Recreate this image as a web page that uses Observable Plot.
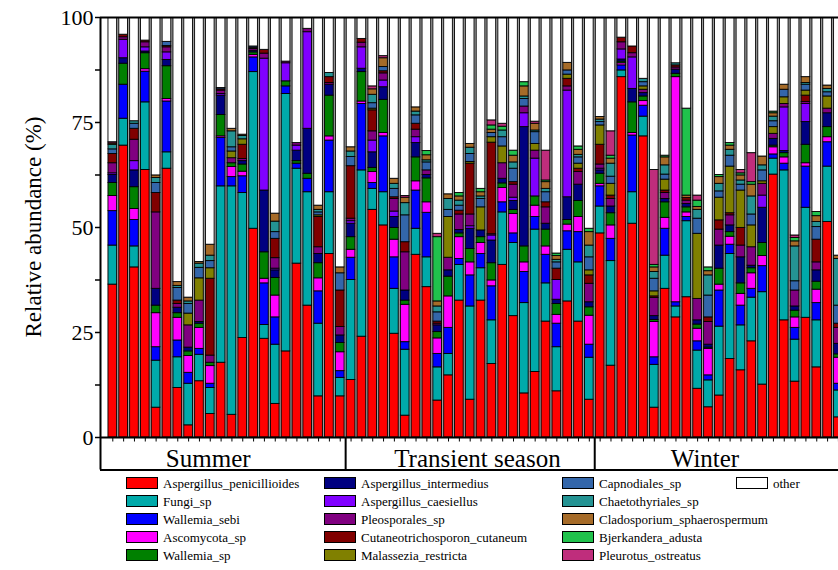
<!DOCTYPE html>
<html>
<head>
<meta charset="utf-8">
<script src="https://cdn.jsdelivr.net/npm/d3@7"></script>
<script src="https://cdn.jsdelivr.net/npm/@observablehq/plot@0.6"></script>
<style>
  html, body { margin: 0; padding: 0; background: #fff; overflow: hidden; }
  body { width: 838px; height: 570px; font-family: "Liberation Serif", "Times New Roman", serif; }
  #legend { position: relative; width: 838px; height: 98px; }
  .item { position: absolute; display: flex; align-items: center; height: 12px; font-size: 13px; line-height: 1; color: #000; white-space: nowrap; }
  .swatch { box-sizing: border-box; border: 1px solid #000; height: 12px; margin-right: 5px; flex: none; }
</style>
</head>
<body>
<div id="chart"></div>
<div id="legend"></div>
<script>
// Relative abundance (%) of the dominant fungal taxa per sample, in stacking order.
const seasons = ["Summer", "Transient season", "Winter"];
const seasonSizes = [22, 23, 23];
const yTickValues = [0, 12.5, 25, 37.5, 50, 62.5, 75, 87.5, 100];
const yLabel = "Relative abundance (%)";

const taxa = [
  "Aspergillus_penicillioides", "Fungi_sp", "Wallemia_sebi", "Ascomycota_sp", "Wallemia_sp",
  "Aspergillus_intermedius", "Aspergillus_caesiellus", "Pleosporales_sp", "Cutaneotrichosporon_cutaneum",
  "Malassezia_restricta", "Capnodiales_sp", "Chaetothyriales_sp", "Cladosporium_sphaerospermum",
  "Bjerkandera_adusta", "Pleurotus_ostreatus"
];

const aspergillusPenicillioides = [
  36.4, 69.5, 40.5, 63.7, 7.1, 64.0, 11.8, 2.9, 13.4, 5.6,
  17.8, 5.4, 23.7, 49.7, 23.5, 8.0, 20.5, 41.4, 31.4, 9.8,
  43.7, 9.8, 13.7, 24.0, 54.2, 50.5, 24.7, 5.2, 43.5, 35.8,
  8.8, 14.8, 32.6, 9.0, 32.6, 17.5, 41.1, 28.9, 10.5, 15.6,
  27.6, 11.0, 32.4, 27.6, 9.0, 48.6, 17.1, 85.8, 50.9, 71.7,
  7.1, 35.4, 28.6, 33.4, 11.6, 7.2, 10.0, 18.7, 16.0, 22.9,
  12.6, 62.6, 27.9, 13.3, 28.5, 16.7, 51.3, 4.8
];
const fungiSp = [
  9.3, 6.4, 5.0, 16.1, 11.2, 3.9, 7.3, 9.9, 6.3, 6.2,
  42.0, 54.4, 34.5, 37.3, 3.3, 14.1, 61.3, 22.6, 27.0, 17.3,
  14.7, 4.4, 23.8, 39.6, 5.0, 7.9, 10.7, 15.7, 6.2, 7.1,
  7.9, 5.1, 8.5, 22.2, 7.7, 10.4, 12.5, 17.4, 21.5, 33.9,
  9.1, 10.5, 12.3, 14.1, 10.0, 6.4, 24.9, 1.6, 7.5, 4.7,
  10.2, 7.9, 2.6, 18.1, 9.1, 6.4, 16.4, 25.0, 10.7, 10.4,
  22.0, 3.8, 35.7, 10.0, 26.2, 11.2, 13.2, 6.4
];
const wallemiaSebi = [
  8.2, 8.1, 6.3, 7.3, 3.2, 12.1, 4.0, 2.6, 1.4, 1.0,
  11.5, 2.2, 4.0, 3.5, 9.9, 6.5, 1.8, 1.2, 3.2, 7.7,
  12.3, 1.6, 5.3, 15.8, 1.4, 13.3, 7.5, 1.8, 9.1, 10.6,
  3.2, 6.2, 1.4, 7.4, 3.4, 8.1, 2.4, 2.3, 7.4, 3.0,
  6.8, 5.6, 4.4, 7.2, 3.1, 4.8, 5.3, 1.2, 13.5, 2.6,
  1.8, 6.4, 1.0, 1.0, 2.2, 1.2, 8.6, 2.2, 4.7, 2.1,
  6.2, 1.0, 1.6, 2.8, 9.8, 4.1, 5.8, 1.6
];
const ascomycotaSp = [
  3.6, 0, 2.6, 0.6, 8.1, 0.6, 5.4, 4.0, 5.0, 4.2,
  0.4, 2.4, 1.1, 0.6, 1.1, 5.2, 0, 0, 0, 3.1,
  1.0, 4.5, 1.9, 0.6, 2.6, 0.8, 4.2, 8.9, 2.2, 2.5,
  3.7, 7.5, 5.2, 3.1, 2.6, 1.4, 3.4, 4.6, 2.3, 2.7,
  2.0, 2.1, 1.6, 3.6, 6.9, 0.6, 3.2, 0.5, 0.6, 1.1,
  8.4, 2.6, 53.6, 1.1, 3.0, 6.3, 1.4, 1.9, 2.8, 3.7,
  2.4, 1.7, 1.5, 2.5, 0.8, 3.2, 1.2, 6.2
];
const wallemiaSp = [
  3.1, 5.0, 5.2, 3.8, 1.8, 7.8, 1.1, 1.1, 1.0, 0.8,
  5.1, 0.9, 1.7, 0.6, 6.3, 4.2, 1.2, 0.6, 1.2, 3.6,
  9.7, 2.2, 3.0, 7.0, 1.0, 7.9, 2.8, 1.0, 5.7, 5.7,
  1.5, 4.7, 0.9, 3.2, 1.4, 4.1, 1.1, 1.0, 3.8, 2.2,
  4.0, 2.6, 1.1, 3.8, 2.0, 2.4, 2.9, 0.4, 7.3, 1.1,
  0.5, 3.7, 0.8, 1.2, 1.0, 0.3, 3.8, 1.1, 2.5, 1.2,
  3.1, 0.4, 1.0, 1.6, 4.4, 1.9, 2.4, 0.8
];
const aspergillusIntermedius = [
  1.9, 1.3, 4.0, 0.4, 4.0, 1.5, 1.3, 0.9, 0.4, 0,
  4.6, 0, 0.8, 0.4, 14.7, 1.8, 0, 2.5, 10.7, 2.2,
  2.6, 1.8, 3.2, 0.8, 3.7, 3.0, 2.6, 2.4, 3.4, 0.8,
  1.6, 1.5, 0.8, 4.8, 1.6, 5.4, 1.1, 2.1, 28.4, 0,
  1.4, 1.0, 5.4, 3.9, 1.2, 0.8, 1.6, 0.5, 3.2, 0.8,
  0.9, 0.8, 1.0, 0.8, 1.0, 0.7, 5.5, 1.6, 6.2, 0.6,
  8.4, 1.6, 0.5, 1.0, 5.4, 2.7, 3.3, 2.5
];
const aspergillusCaesiellus = [
  0.4, 4.4, 2.2, 1.0, 0, 1.8, 0, 0, 0, 0,
  0.4, 0, 0, 0, 31.4, 0.4, 4.3, 1.2, 23.0, 0,
  0, 0, 0.6, 5.1, 2.8, 1.6, 1.3, 0, 1.4, 0,
  0, 0, 0, 0.6, 0, 1.2, 0, 0.8, 3.3, 9.0,
  0, 4.7, 25.4, 0, 0, 0.4, 0, 2.4, 7.5, 0,
  0, 0, 0, 0, 0, 0, 0, 0, 0, 0,
  2.9, 0, 10.4, 0, 4.3, 0, 0, 0
];
const pleosporalesSp = [
  2.4, 0.6, 5.1, 1.2, 18.2, 1.2, 0.9, 5.3, 5.1, 1.7,
  0.8, 1.2, 0.5, 0.4, 1.2, 2.5, 0.4, 0.6, 0.8, 1.6,
  0.4, 2.0, 0.6, 1.1, 2.2, 1.7, 3.0, 9.1, 1.8, 1.1,
  0.4, 3.0, 3.7, 2.8, 0, 0.3, 3.7, 3.1, 1.6, 1.9,
  3.9, 0, 1.0, 3.0, 4.4, 1.0, 1.8, 1.7, 1.0, 0.8,
  4.3, 1.4, 0.5, 0.8, 5.1, 5.4, 3.8, 2.4, 2.8, 4.4,
  2.8, 1.2, 0.8, 3.8, 0.5, 1.9, 1.1, 3.8
];
const cutaneotrichosporonCutaneum = [
  2.2, 0.6, 2.6, 0.4, 4.6, 0.3, 0.8, 0, 0, 18.3,
  0.3, 0, 3.4, 0.3, 0.9, 4.6, 0, 0, 0, 7.2,
  1.4, 8.7, 12.5, 0.9, 5.0, 0.5, 0.4, 2.4, 1.4, 0,
  0.5, 0, 0.9, 12.1, 0, 21.8, 0, 0.6, 0, 0,
  1.2, 2.7, 1.8, 0.8, 2.0, 4.7, 0.8, 1.1, 1.6, 0,
  0.4, 0.6, 0.5, 0.6, 0, 1.1, 2.2, 0.5, 4.2, 0,
  0, 0, 0, 0, 1.5, 5.4, 0, 1.0
];
const malasseziaRestricta = [
  0, 0, 0, 0, 0, 0, 0, 2.8, 5.3, 2.5,
  0, 1.6, 1.3, 0, 0, 0, 0, 0, 0, 0.4,
  0, 0, 0, 0, 0.4, 0, 0, 0, 0, 0,
  0, 9.7, 0, 0.4, 5.5, 1.3, 4.0, 0, 0, 1.6,
  0, 0, 1.0, 1.2, 1.2, 4.6, 2.8, 0, 0, 0.8,
  1.2, 2.6, 0, 0, 15.5, 0, 5.4, 11.1, 8.9, 5.2,
  0.6, 1.6, 1.6, 0, 1.2, 0, 2.9, 0
];
const capnodialesSp = [
  1.1, 0, 1.2, 0, 2.4, 1.0, 3.0, 2.3, 2.5, 1.7,
  0.3, 1.0, 0, 0.3, 0, 1.6, 0, 0, 0, 0.7,
  0, 4.1, 2.2, 0, 1.3, 1.0, 2.0, 6.4, 2.0, 1.9,
  2.2, 1.7, 1.2, 1.9, 2.0, 1.0, 2.2, 3.2, 1.8, 2.8,
  2.4, 1.5, 1.0, 1.5, 3.1, 0.8, 1.7, 0, 0, 1.0,
  3.0, 1.2, 0, 0, 3.6, 5.2, 1.5, 2.6, 1.4, 2.6,
  2.6, 1.4, 1.8, 2.2, 1.4, 3.0, 1.0, 4.3
];
const chaetothyrialesSp = [
  1.1, 0, 0.6, 0, 1.2, 0, 0.5, 0.6, 1.0, 1.3,
  0, 3.8, 0.8, 0, 0, 2.5, 0, 0, 0, 0.6,
  1.0, 0, 1.3, 0, 2.0, 0, 1.2, 2.9, 0.9, 0.5,
  1.4, 2.6, 1.2, 1.5, 0.6, 0, 1.6, 1.5, 0.6, 0.4,
  0.8, 0.6, 0, 0.6, 2.8, 0.6, 3.1, 0, 0, 0.8,
  1.6, 2.2, 0.5, 0, 2.1, 4.8, 1.8, 1.4, 1.0, 4.3,
  1.2, 1.1, 0, 8.3, 0.4, 1.2, 0.8, 11.1
];
const cladosporiumSphaerospermum = [
  0.3, 0, 0, 0, 0.6, 0, 0.9, 0.9, 0.4, 2.6,
  0, 0.6, 0.3, 0, 0, 1.9, 0, 0, 0, 1.0,
  0, 1.4, 1.0, 0, 1.3, 2.1, 1.2, 1.3, 1.0, 1.2,
  1.2, 1.1, 1.0, 0.9, 1.0, 0.8, 0, 1.6, 2.4, 1.6,
  1.6, 0.9, 1.8, 1.2, 3.2, 0.6, 1.2, 0, 0, 0,
  1.1, 1.9, 0, 0.6, 0.7, 1.0, 1.6, 1.0, 1.2, 2.8,
  2.1, 0.8, 1.2, 1.2, 1.4, 1.4, 0.8, 0.8
];
const bjerkanderaAdusta = [
  0, 0, 0, 0, 0, 0, 0, 0, 0, 0,
  0, 0, 0, 0, 0, 0, 0, 0, 0, 0,
  0, 0, 0, 0, 0, 0, 0, 0, 0, 1.0,
  15.3, 0, 0.8, 0, 0.8, 1.0, 0.9, 1.2, 1.0, 0,
  0.4, 0.6, 0, 0.8, 0.8, 0, 0.7, 0, 0, 0,
  0.6, 0.4, 0, 20.7, 1.5, 0.9, 0.5, 0.6, 0.5, 0.6,
  0, 0.4, 0, 0.8, 0, 1.0, 0, 0
];
const pleurotusOstreatus = [
  0.3, 0, 0, 0, 0, 0, 0, 0, 0, 0,
  0, 0, 0, 0, 0, 0, 0, 0, 0, 0,
  0, 0, 0, 0, 0.7, 0.5, 0, 0.4, 0, 0,
  0.8, 0, 0, 0, 0, 1.2, 0.7, 0, 0, 0.5,
  7.1, 0, 0, 0, 0, 0, 5.8, 0, 0, 0,
  22.6, 0, 0, 0, 1.2, 0, 0, 0, 0.8, 6.9,
  0, 0, 0, 0.6, 0, 0, 0, 0
];

const seriesValues = [
  aspergillusPenicillioides, fungiSp, wallemiaSebi, ascomycotaSp, wallemiaSp,
  aspergillusIntermedius, aspergillusCaesiellus, pleosporalesSp, cutaneotrichosporonCutaneum,
  malasseziaRestricta, capnodialesSp, chaetothyrialesSp, cladosporiumSphaerospermum,
  bjerkanderaAdusta, pleurotusOstreatus
];
const otherName = "other";

// Fill colours, one per taxon, then "other".
const palette = [
  "#ff0000", "#00aaaa", "#0000ff", "#ff00ff", "#008000",
  "#000080", "#8000ff", "#800080", "#800000",
  "#808000", "#3366aa", "#249393", "#a66b28",
  "#20c24c", "#bf2d7c", "#ffffff"
];

// ---- layout ----
const serif = "Liberation Serif, Times New Roman, serif";
const W = 838, H = 472;
const marginLeft = 100, marginTop = 17, marginBottom = 35;
const pxPerUnit = (H - marginBottom - marginTop) / 100;
const barPitch = 10.83, firstBarCenter = 112.3;
const xMin = (marginLeft - firstBarCenter) / barPitch;
const xMax = (W - firstBarCenter) / barPitch;
const halfBar = 0.40;
const boxDepth = 32.5 / pxPerUnit;
const tickDepth = 4.5 / pxPerUnit;
const labelBaseline = 29.5 / pxPerUnit;
const seasonLabelX = [8.81, 33.67, 54.68];

// ---- derived tables ----
const nBars = d3.sum(seasonSizes);
const bars = d3.range(nBars);
const segments = [];
for (const i of bars) {
  let acc = 0;
  seriesValues.forEach((vals, k) => {
    const v = vals[i];
    if (v > 0) segments.push({i, taxon: taxa[k], y1: acc, y2: acc + v});
    acc += v;
  });
  segments.push({i, taxon: otherName, y1: acc, y2: 100});
}
const bounds = d3.cumsum(seasonSizes).slice(0, -1).map(c => c - 0.5);
const seasonRows = seasons.map((name, j) => ({name, x: seasonLabelX[j]}));

const chart = Plot.plot({
  width: W, height: H,
  marginLeft, marginRight: 0, marginTop, marginBottom,
  x: {type: "linear", domain: [xMin, xMax], axis: null},
  y: {domain: [0, 100], axis: null},
  color: {domain: [...taxa, otherName], range: palette},
  style: {fontFamily: serif, fontSize: "22px", color: "#000", background: "#fff"},
  marks: [
    // grey drop shadow on the right of every column
    Plot.rect(bars, {x1: d => d - halfBar, x2: d => d + 1 - halfBar, y1: 0, y2: 100, fill: "#9c9c9c", clip: true}),
    Plot.rect(segments, {
      x1: d => d.i - halfBar, x2: d => d.i + halfBar, y1: "y1", y2: "y2",
      fill: "taxon", stroke: "#000", strokeWidth: 0.9, clip: true
    }),
    // bar ticks under the axis
    Plot.ruleX(bars, {x: d => d, y1: 0, y2: -tickDepth, strokeWidth: 1}),
    // frame: axis line, top line, season box
    Plot.ruleY([0], {strokeWidth: 2}),
    Plot.ruleY([100], {strokeWidth: 2}),
    Plot.ruleY([-boxDepth], {strokeWidth: 2}),
    Plot.ruleX([xMin], {y1: -boxDepth, y2: 100, strokeWidth: 2}),
    Plot.ruleX(bounds, {y1: -boxDepth, y2: 0, strokeWidth: 2}),
    Plot.axisY({
      ticks: yTickValues, tickSize: 5, tickPadding: 2, strokeWidth: 1.5,
      tickFormat: d => (d % 25 === 0 ? String(d) : ""), fontSize: 22, fontFamily: serif
    }),
    Plot.text(seasonRows, {x: "x", y: -labelBaseline, text: "name", lineAnchor: "bottom", fontSize: 25, fontFamily: serif})
  ]
});

const svg = d3.select(chart).attr("font-family", serif);
svg.append("text")
  .attr("transform", `translate(33,${(marginTop + H - marginBottom) / 2}) rotate(-90)`)
  .attr("text-anchor", "middle")
  .attr("dy", "0.35em")
  .attr("font-family", serif)
  .attr("font-size", 23)
  .attr("fill", "#000")
  .text(yLabel);

document.getElementById("chart").appendChild(chart);

// ---- legend: four columns, five rows, column-major ----
const legendNames = [...taxa, otherName];
const colLeft = [126, 324, 562, 736];
const swatchW = [32, 32, 32, 32];
const rowCenter = [483, 501, 519, 537, 555];
const legend = d3.select("#legend");
legendNames.forEach((name, k) => {
  const col = Math.floor(k / 5), row = k % 5;
  const item = legend.append("div").attr("class", "item")
    .style("left", colLeft[col] + "px")
    .style("top", (rowCenter[row] - 6 - H) + "px");
  item.append("div").attr("class", "swatch")
    .style("width", swatchW[col] + "px")
    .style("background", palette[k]);
  item.append("span").text(name);
});
</script>
</body>
</html>
